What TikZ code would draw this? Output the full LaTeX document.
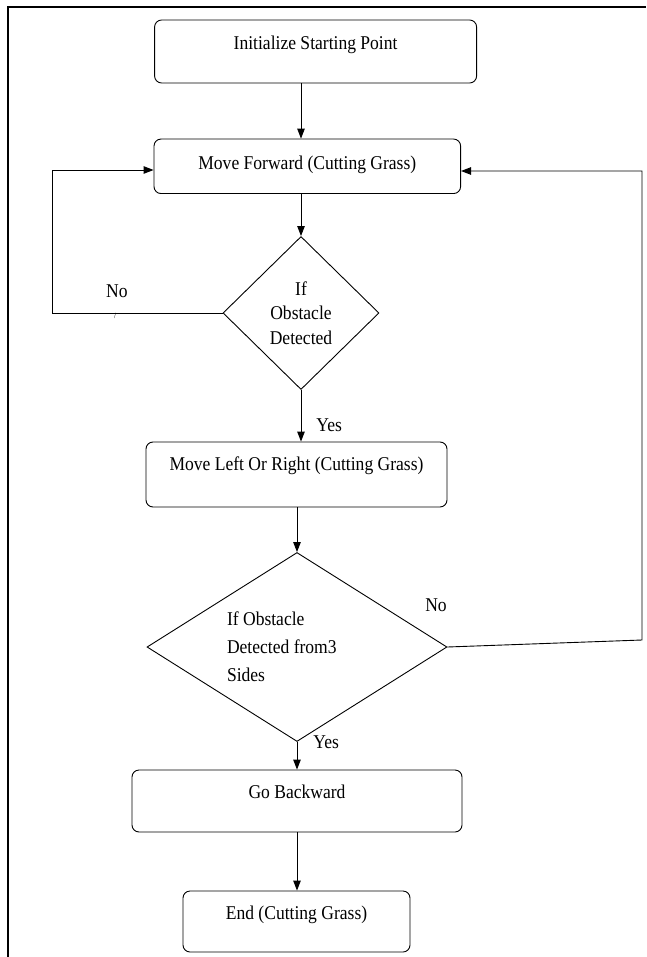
\documentclass[tikz,border=0pt]{standalone}
\usepackage{fontspec}
\setmainfont{Liberation Serif}[FakeStretch=0.9]
\usetikzlibrary{arrows.meta,positioning,shapes.geometric}

\begin{document}
\begin{tikzpicture}[x=1pt, y=1pt,
  font=\fontsize{19.5}{24}\selectfont,
  box/.style={draw, rounded corners=7pt, line width=0.9pt, inner sep=0pt, align=center, text height=13pt, text depth=18pt},
  dec/.style={draw, diamond, line width=0.9pt, inner sep=0pt, align=center},
  arr/.style={-{Triangle[length=10pt,width=7.5pt]}, line width=0.9pt},
  lbl/.style={inner sep=0pt},
  frame/.style={line width=1.8pt}
]
\useasboundingbox (0,0) rectangle (646,-957);
\draw[frame] (8,-957) -- (8,-7) -- (646,-7);

\node[box,minimum width=322pt,minimum height=63pt,text depth=17pt] (init) at (315.6,-51.5)
  {Initialize Starting Point};
\node[box,minimum width=306.6pt,minimum height=54.5pt,text depth=6pt] (mf) at (307.3,-166.3)
  {Move Forward (Cutting Grass)};
\node[dec,minimum width=156pt,minimum height=153pt,font=\fontsize{19.5}{24.5}\selectfont] (dia1) at (301,-313)
  {If\\Obstacle\\Detected};
\node[box,minimum width=301pt,minimum height=65pt,text depth=22pt] (lr) at (296.5,-474.5)
  {Move Left Or Right (Cutting Grass)};
\node[dec,shape aspect=1.6,minimum width=300pt,minimum height=189pt,text width=140pt,align=flush left,
  font=\fontsize{19.5}{28}\selectfont] (dia2) at (297,-647)
  {If Obstacle\\Detected from3\\Sides};
\node[box,minimum width=330pt,minimum height=62pt] (gob) at (297,-801)
  {Go Backward};
\node[box,minimum width=227pt,minimum height=61pt,text depth=17pt] (fin) at (296.5,-921.5)
  {End (Cutting Grass)};

\coordinate (lft) at (52,-170);
\coordinate (rlow) at (642,-640);
\coordinate (rtop) at (642,-171);

\draw[arr] (init.south -| dia1.north) -- (mf.north -| dia1.north);
\draw[arr] (mf.south -| dia1.north) -- (dia1.north);
\draw[arr] (dia1.west) -| node[lbl,pos=0.31,above=14.5pt]{No} (lft) -- (lft -| mf.west);
\node[font=\fontsize{8}{8}\selectfont] (tick) at (115,-316) {/};
\draw[arr] (dia1.south) -- node[lbl,pos=0.68,right=15pt]{Yes} (dia1.south |- lr.north);
\draw[arr] (lr.south -| dia2.north) -- (dia2.north);
\draw[arr] (dia2.east) -- (rlow) -- (rtop) -- (rtop -| mf.east);
\node[lbl] (no2) at (436,-605) {No};
\draw[arr] (dia2.south) -- node[lbl,pos=0,right=16pt]{Yes} (dia2.south |- gob.north);
\draw[arr] (gob.south -| dia2.south) -- (fin.north -| dia2.south);
\end{tikzpicture}
\end{document}
